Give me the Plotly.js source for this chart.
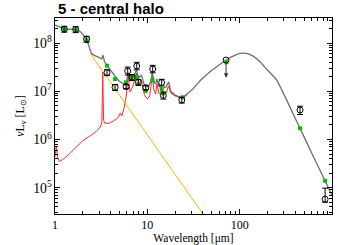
<!DOCTYPE html>
<html><head><meta charset="utf-8">
<script src="https://cdn.plot.ly/plotly-3.0.1.min.js"></script>
<style>html,body{margin:0;padding:0;background:#fff}#chart{width:343px;height:245px}</style>
</head><body><div id="chart"></div>
<script>
// Total model SED (grey)
const modelWave = [1.0,1.1,1.26,1.45,1.675,1.9,2.2,2.49,2.7,2.95,3.2,3.3,3.45,3.66,4.15,4.7,5.3,5.7,6.0,6.2,6.5,7.0,7.6,8.1,8.6,9.3,10.2,11.0,11.3,11.8,12.3,12.7,13.3,14.5,16.0,17.0,18.0,20.0,23.6,27,31.5,38,47.8,60,71.2,85,101,119,140,166,200,252,320,382,451,600,842,1000];
const modelLum  = [2.36e8,2.2e8,1.95e8,1.95e8,1.91e8,1.69e8,1.18e8,6.07e7,5.5e7,5.13e7,4.68e7,5.6e7,4.05e7,3.42e7,2.51e7,1.8e7,1.49e7,1.38e7,1.71e7,2.39e7,1.63e7,1.88e7,2.76e7,1.88e7,2.17e7,1.35e7,1.23e7,1.71e7,2.51e7,1.56e7,1.42e7,1.8e7,1.29e7,1.17e7,1.23e7,1.56e7,1.01e7,8.4e6,7.4e6,8.8e6,1.15e7,1.71e7,2.55e7,3.51e7,4.45e7,5.37e7,6.12e7,6.12e7,5.37e7,4.1e7,2.76e7,1.71e7,6.8e6,3.3e6,1.71e6,5.3e5,1.39e5,6.9e4];
// Dust/PAH component (red)
const dustWave = [1.0,1.03,1.07,1.12,1.2,1.4,1.7,2.0,2.4,2.8,3.1,3.22,3.29,3.36,3.45,3.8,4.3,4.8,5.1,5.3,5.6,5.9,6.2,6.5,7.0,7.6,8.1,8.6,9.3,10.0,10.6,11.3,11.8,12.3,12.7,13.3,14.5,16.0,17.0,18.0,20.0,23.6,27];
const dustLum  = [4.4e5,7.0e5,4.2e5,3.5e5,3.8e5,4.8e5,7.0e5,9.4e5,1.19e6,1.47e6,1.82e6,2.31e6,2.5e7,2.5e6,2.2e6,2.15e6,2.43e6,2.8e6,3.55e6,3.08e6,4.5e6,8.0e6,2.07e7,9.7e6,1.29e7,2.39e7,1.35e7,1.71e7,8.4e6,6.9e6,8.0e6,2.07e7,1.06e7,8.8e6,1.42e7,9.2e6,8.4e6,9.2e6,1.29e7,9.2e6,8.0e6,7.1e6,8.4e6];
// Stellar Rayleigh-Jeans tail (orange)
const starWave = [2.4,5,10,20,40,60];
const starLum  = [6.1e7,8.26e6,1.25e6,1.9e5,2.9e4,9.5e3];
// Model photometry (green)
const synWave = [1.26,1.675,2.2,3.66,4.47,5.84,6.6,7.68,8.0,9.61,11.4,14.3,14.9,24,71.8,451,842];
const synLum  = [1.95e8,1.9e8,1.13e8,3.39e7,1.8e7,1.53e7,1.98e7,1.98e7,1.41e7,1.01e7,1.68e7,1.09e7,9.1e6,7.5e6,4.0e7,1.71e6,1.39e5];
// Observations (black)
const obsWave = [1.26,1.675,2.2,3.66,4.47,5.88,6.13,6.83,7.68,7.99,9.61,11.44,14.3,14.9,23.6,451,842];
const obsLum  = [1.95e8,1.92e8,1.21e8,2.45e7,1.21e7,1.25e7,2.63e7,1.95e7,3.34e7,1.54e7,1.19e7,2.9e7,1.52e7,8.2e6,6.6e6,4.1e6,5.8e4];
const obsErrUp   = [2.7e7,2.7e7,1.7e7,3.4e6,1.7e6,1.2e6,5.5e6,2.7e6,6.5e6,2.1e6,1.1e6,5.5e6,2.5e6,1.4e6,0.9e6,0.8e6,4.0e4];
const obsErrDown = [2.7e7,2.7e7,1.7e7,3.4e6,1.7e6,1.2e6,4.6e6,2.7e6,5.5e6,2.1e6,1.1e6,4.8e6,2.3e6,1.3e6,0.9e6,0.8e6,0.8e4];
// Upper limit
const ulWave = [71.2];
const ulLum  = [4.45e7];
const ulDrop = 0.37; // arrow length in dex

const serif = 'Liberation Serif, Times New Roman, serif';
const traces = [
  {x: dustWave, y: dustLum, mode:'lines', line:{color:'#ff2a2a', width:1}, hoverinfo:'skip'},
  {x: starWave, y: starLum, mode:'lines', line:{color:'#ffb300', width:1}, hoverinfo:'skip'},
  {x: modelWave, y: modelLum, mode:'lines', line:{color:'#6e6e6e', width:1.3, shape:'spline', smoothing:0.4}, hoverinfo:'skip'},
  {x: synWave, y: synLum, mode:'markers', marker:{color:'#00c000', size:4, symbol:'square'}},
  {x: obsWave, y: obsLum, mode:'markers', marker:{symbol:'circle-open', color:'#000', size:6, line:{width:1}},
   error_y:{type:'data', symmetric:false, array:obsErrUp, arrayminus:obsErrDown, color:'#000', thickness:1, width:3}},
  {x: ulWave, y: ulLum, mode:'markers', marker:{symbol:'circle-open', color:'#000', size:6, line:{width:1}}}
];
const layout = {
  width:343, height:245,
  margin:{l:55, r:11, t:18, b:31},
  paper_bgcolor:'#fff', plot_bgcolor:'#fff',
  showlegend:false,
  title:{text:'<b>5 - central halo</b>', font:{family:'Liberation Sans, Arial, sans-serif', size:15, color:'#000'},
         x:58/343, xref:'container', xanchor:'left', y:1-3/245, yref:'container', yanchor:'top', pad:{t:0,b:0,l:0,r:0}},
  xaxis:{type:'log', range:[0,3], tickmode:'linear', tick0:0, dtick:1,
         ticks:'inside', ticklen:5, tickcolor:'#000', showline:true, linecolor:'#000', linewidth:1, mirror:'ticks',
         showgrid:false, zeroline:false, tickfont:{family:serif, size:12, color:'#000'},
         minor:{ticks:'inside', ticklen:3, tickcolor:'#000', showgrid:false},
         title:{text:'Wavelength [μm]', font:{family:serif, size:11.5, color:'#000'}, standoff:4}},
  yaxis:{type:'log', range:[4.455,8.52], tickmode:'linear', tick0:0, dtick:1, exponentformat:'power',
         ticks:'inside', ticklen:5, tickcolor:'#000', showline:true, linecolor:'#000', linewidth:1, mirror:'ticks',
         showgrid:false, zeroline:false, tickfont:{family:serif, size:11, color:'#000'},
         minor:{ticks:'inside', ticklen:3, tickcolor:'#000', showgrid:false},
         title:{text:'<i>ν</i>L<sub><i>ν</i></sub> [L<sub>⊙</sub>]', font:{family:serif, size:12, color:'#000'}, standoff:6}},
  annotations: ulWave.map((w,i)=>({
    x:Math.log10(w), y:Math.log10(ulLum[i])-ulDrop, xref:'x', yref:'y',
    ax:Math.log10(w), ay:Math.log10(ulLum[i])-0.03, axref:'x', ayref:'y',
    showarrow:true, arrowhead:2, arrowsize:0.9, arrowwidth:1, arrowcolor:'#333', text:''
  }))
};
Plotly.newPlot('chart', traces, layout, {displayModeBar:false, staticPlot:true});
</script></body></html>
